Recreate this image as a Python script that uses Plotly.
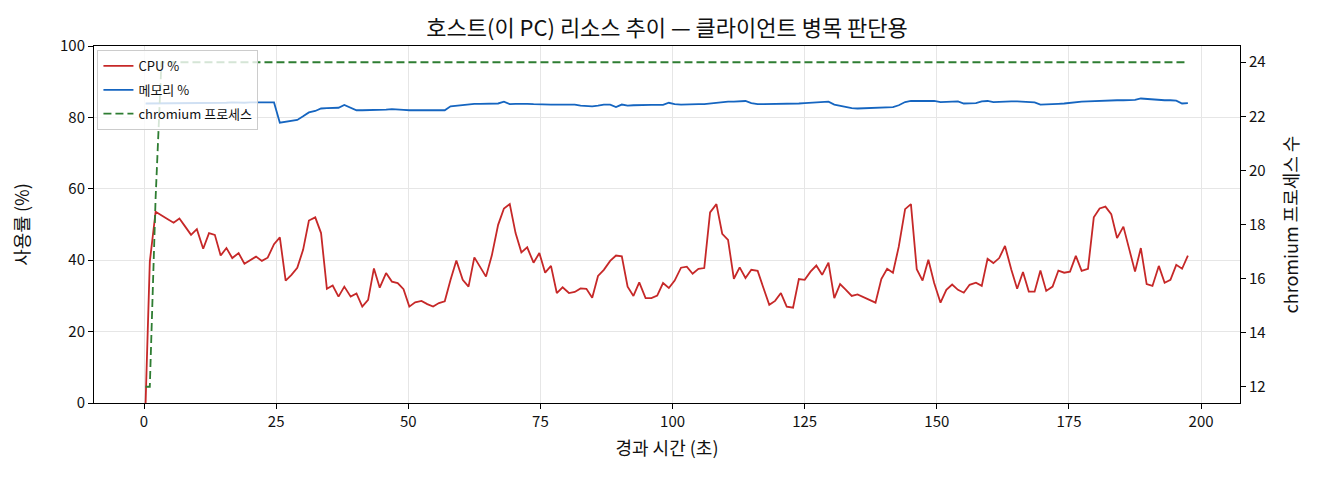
"""Host resource trend chart: CPU %, memory % and chromium process count
over elapsed time, used to judge whether the client machine is the bottleneck.
"""
import plotly.graph_objects as go

# elapsed time of each sample (s)
ELAPSED_S = [
    0.3, 1.1, 2.2, 3.3, 4.5, 5.6, 6.7, 7.8, 8.9, 10.0,
    11.2, 12.3, 13.4, 14.5, 15.6, 16.7, 17.9, 19.0, 20.1, 21.2,
    22.3, 23.4, 24.6, 25.7, 26.8, 27.9, 29.0, 30.1, 31.2, 32.4,
    33.5, 34.6, 35.7, 36.8, 37.9, 39.1, 40.2, 41.3, 42.4, 43.5,
    44.6, 45.8, 46.9, 48.0, 49.1, 50.2, 51.3, 52.5, 53.6, 54.7,
    55.8, 56.9, 58.0, 59.1, 60.3, 61.4, 62.5, 63.6, 64.7, 65.8,
    67.0, 68.1, 69.2, 70.3, 71.4, 72.5, 73.7, 74.8, 75.9, 77.0,
    78.1, 79.2, 80.4, 81.5, 82.6, 83.7, 84.8, 85.9, 87.0, 88.2,
    89.3, 90.4, 91.5, 92.6, 93.7, 94.9, 96.0, 97.1, 98.2, 99.3,
    100.4, 101.6, 102.7, 103.8, 104.9, 106.0, 107.1, 108.3, 109.4, 110.5,
    111.6, 112.7, 113.8, 114.9, 116.1, 117.2, 118.3, 119.4, 120.5, 121.6,
    122.8, 123.9, 125.0, 126.1, 127.2, 128.3, 129.5, 130.6, 131.7, 132.8,
    133.9, 135.0, 136.2, 137.3, 138.4, 139.5, 140.6, 141.7, 142.8, 144.0,
    145.1, 146.2, 147.3, 148.4, 149.5, 150.7, 151.8, 152.9, 154.0, 155.1,
    156.2, 157.4, 158.5, 159.6, 160.7, 161.8, 162.9, 164.1, 165.2, 166.3,
    167.4, 168.5, 169.6, 170.7, 171.9, 173.0, 174.1, 175.2, 176.3, 177.4,
    178.6, 179.7, 180.8, 181.9, 183.0, 184.1, 185.3, 186.4, 187.5, 188.6,
    189.7, 190.8, 192.0, 193.1, 194.2, 195.3, 196.4, 197.5,
]

CPU_PCT = [
    0.0, 39.6, 53.6, 52.7, 51.5, 50.5, 51.7, 49.4, 47.1, 48.7,
    43.2, 47.6, 47.1, 41.3, 43.4, 40.6, 42.0, 39.0, 40.1, 41.0,
    39.8, 40.7, 44.5, 46.4, 34.3, 35.9, 37.9, 42.9, 51.1, 52.0,
    47.6, 32.0, 32.9, 29.8, 32.6, 29.8, 30.7, 27.0, 28.9, 37.7,
    32.3, 36.4, 34.0, 33.6, 31.9, 27.0, 28.2, 28.6, 27.7, 27.0,
    28.0, 28.5, 34.5, 39.9, 34.5, 32.6, 40.8, 37.9, 35.4, 41.3,
    49.9, 54.5, 55.7, 47.6, 42.2, 43.6, 39.3, 42.0, 36.5, 38.4,
    30.8, 32.4, 30.8, 31.1, 32.1, 32.0, 29.5, 35.6, 37.3, 39.8,
    41.3, 41.1, 32.6, 30.0, 33.8, 29.4, 29.4, 30.1, 33.6, 32.2,
    34.3, 37.9, 38.2, 36.2, 37.6, 37.8, 53.4, 55.7, 47.4, 45.7,
    34.8, 38.0, 35.0, 37.3, 37.0, 32.2, 27.5, 28.6, 30.8, 27.0,
    26.7, 34.7, 34.5, 36.8, 38.5, 35.9, 39.3, 29.4, 33.3, 31.7,
    30.0, 30.4, 29.6, 28.9, 28.1, 34.7, 37.6, 36.5, 43.8, 54.3,
    55.7, 37.5, 34.3, 40.1, 33.6, 28.1, 31.7, 33.2, 31.7, 30.9,
    33.1, 33.7, 32.8, 40.4, 39.2, 40.6, 44.0, 37.3, 32.0, 36.7,
    31.2, 31.2, 37.1, 31.4, 32.6, 37.1, 36.5, 36.8, 41.2, 37.0,
    37.6, 52.0, 54.5, 55.0, 52.9, 46.2, 49.4, 43.1, 36.8, 43.4,
    33.3, 32.8, 38.4, 33.7, 34.5, 38.7, 37.6, 41.3,
]

MEM_PCT = [
    83.9, 83.9, 84.0, 84.0, 84.0, 84.0, 84.0, 84.1, 84.0, 84.0,
    84.0, 84.1, 84.1, 84.1, 84.1, 84.2, 84.1, 84.1, 84.2, 84.2,
    84.2, 84.2, 84.2, 78.5, 78.8, 79.0, 79.3, 80.3, 81.4, 81.8,
    82.5, 82.6, 82.7, 82.7, 83.5, 82.8, 82.0, 82.0, 82.0, 82.1,
    82.2, 82.2, 82.3, 82.1, 82.1, 82.0, 82.0, 82.1, 82.1, 82.2,
    82.1, 82.0, 83.1, 83.3, 83.6, 83.7, 83.8, 83.8, 83.8, 83.8,
    83.9, 84.4, 83.7, 83.8, 83.9, 83.8, 83.7, 83.6, 83.6, 83.6,
    83.6, 83.6, 83.6, 83.6, 83.3, 83.1, 83.1, 83.3, 83.6, 83.6,
    82.9, 83.6, 83.3, 83.4, 83.5, 83.5, 83.5, 83.5, 83.5, 84.1,
    83.7, 83.6, 83.7, 83.7, 83.7, 83.7, 83.9, 84.1, 84.3, 84.4,
    84.4, 84.5, 84.6, 84.0, 83.7, 83.7, 83.7, 83.7, 83.7, 83.8,
    83.9, 83.9, 84.0, 84.1, 84.3, 84.5, 84.4, 83.6, 83.2, 83.0,
    82.6, 82.5, 82.6, 82.7, 82.8, 82.8, 82.8, 82.9, 83.4, 84.3,
    84.6, 84.6, 84.6, 84.6, 84.6, 84.3, 84.4, 84.5, 84.5, 83.9,
    84.0, 84.0, 84.5, 84.6, 84.3, 84.4, 84.4, 84.5, 84.5, 84.4,
    84.5, 84.2, 83.6, 83.6, 83.7, 83.8, 83.9, 84.1, 84.3, 84.4,
    84.5, 84.6, 84.7, 84.8, 84.8, 84.8, 84.8, 84.8, 84.9, 85.3,
    85.2, 84.9, 84.9, 84.8, 84.8, 84.7, 83.9, 84.0,
]

CHROMIUM_PROCS = [
    12, 12, 19, 24, 24, 24, 24, 24, 24, 24,
    24, 24, 24, 24, 24, 24, 24, 24, 24, 24,
    24, 24, 24, 24, 24, 24, 24, 24, 24, 24,
    24, 24, 24, 24, 24, 24, 24, 24, 24, 24,
    24, 24, 24, 24, 24, 24, 24, 24, 24, 24,
    24, 24, 24, 24, 24, 24, 24, 24, 24, 24,
    24, 24, 24, 24, 24, 24, 24, 24, 24, 24,
    24, 24, 24, 24, 24, 24, 24, 24, 24, 24,
    24, 24, 24, 24, 24, 24, 24, 24, 24, 24,
    24, 24, 24, 24, 24, 24, 24, 24, 24, 24,
    24, 24, 24, 24, 24, 24, 24, 24, 24, 24,
    24, 24, 24, 24, 24, 24, 24, 24, 24, 24,
    24, 24, 24, 24, 24, 24, 24, 24, 24, 24,
    24, 24, 24, 24, 24, 24, 24, 24, 24, 24,
    24, 24, 24, 24, 24, 24, 24, 24, 24, 24,
    24, 24, 24, 24, 24, 24, 24, 24, 24, 24,
    24, 24, 24, 24, 24, 24, 24, 24, 24, 24,
    24, 24, 24, 24, 24, 24, 24, 24,
]

X_TICKS = [0, 25, 50, 75, 100, 125, 150, 175, 200]
PCT_TICKS = [0, 20, 40, 60, 80, 100]
PROC_TICKS = [12, 14, 16, 18, 20, 22, 24]

TITLE = "호스트(이 PC) 리소스 추이 — 클라이언트 병목 판단용"
X_LABEL = "경과 시간 (초)"
Y_LABEL = "사용률 (%)"
Y2_LABEL = "chromium 프로세스 수"

FONT = "'Noto Sans CJK KR', 'Noto Sans', sans-serif"
GRID = "#e6e6e6"

# the page body keeps its default 8px margin, so the figure is sized to fit
# the 1320x480 window from (8, 8) onward
FIG_W, FIG_H = 1312, 472


def build_figure() -> go.Figure:
    fig = go.Figure()

    fig.add_trace(go.Scatter(
        x=ELAPSED_S, y=CPU_PCT, mode="lines", name="CPU %",
        legendgroup="cpu",
        line=dict(color="#c62828", width=1.8),
    ))
    fig.add_trace(go.Scatter(
        x=ELAPSED_S, y=MEM_PCT, mode="lines", name="메모리 %",
        legendgroup="mem",
        line=dict(color="#1565c0", width=1.8),
    ))
    fig.add_trace(go.Scatter(
        x=ELAPSED_S, y=CHROMIUM_PROCS, mode="lines", name="chromium 프로세스",
        legendgroup="proc", yaxis="y2",
        line=dict(color="#2e7d32", width=1.8, dash="8px,4px"),
    ))

    axis_common = dict(
        showline=True, linecolor="black", linewidth=1,
        ticks="outside", ticklen=5, tickwidth=1, tickcolor="black",
        tickfont=dict(size=15, color="#111"),
        zeroline=False, automargin=False,
    )

    fig.update_layout(
        width=FIG_W,
        height=FIG_H,
        margin=dict(l=86, r=80, t=38, b=77),
        paper_bgcolor="white",
        plot_bgcolor="white",
        font=dict(family=FONT, size=15, color="#111"),
        title=dict(
            text=TITLE, x=0.5023, xanchor="center",
            y=1 - 20 / FIG_H, yanchor="middle", yref="container",
            font=dict(size=22, color="#111"),
        ),
        xaxis=dict(
            range=[-9.46, 207.36], tickvals=X_TICKS, mirror=True,
            showgrid=True, gridcolor=GRID,
            title=dict(text=X_LABEL, standoff=12, font=dict(size=18)),
            **axis_common,
        ),
        yaxis=dict(
            range=[0, 100], tickvals=PCT_TICKS,
            showgrid=True, gridcolor=GRID,
            title=dict(text=Y_LABEL, standoff=28, font=dict(size=18)),
            **axis_common,
        ),
        yaxis2=dict(
            range=[11.4, 24.6], tickvals=PROC_TICKS,
            overlaying="y", side="right", showgrid=False,
            title=dict(text=Y2_LABEL, standoff=20, font=dict(size=18)),
            **axis_common,
        ),
        legend=dict(
            x=0.003, y=0.989, xanchor="left", yanchor="top",
            bgcolor="rgba(255,255,255,0.8)",
            bordercolor="#cccccc", borderwidth=1,
            font=dict(size=13, color="#111"),
            tracegroupgap=4,
        ),
        showlegend=True,
    )
    return fig


def main() -> None:
    fig = build_figure()
    fig.write_html("out.html")


if __name__ == "__main__":
    main()
